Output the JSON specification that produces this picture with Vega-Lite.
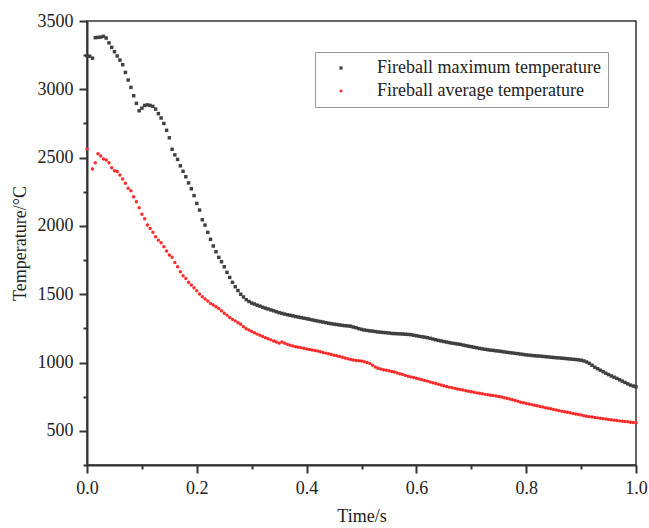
{
"$schema": "https://vega.github.io/schema/vega-lite/v6.json",
"autosize": "none",
"width": 549,
"height": 444,
"padding": {"left": 87, "top": 21, "right": 13, "bottom": 63},
"background": "white",
"data": {"values": [
{"t":0,"a":3245,"b":2563},{"t":0.005,"a":3242,"b":null},{"t":0.01,"a":3228,"b":2416},{"t":0.015,"a":3378,"b":2463},{"t":0.02,"a":3380,"b":2528},{"t":0.025,"a":3382,"b":2512},{"t":0.03,"a":3388,"b":2490},{"t":0.035,"a":3375,"b":2482},{"t":0.04,"a":3340,"b":2463},{"t":0.045,"a":3307,"b":2426},
{"t":0.05,"a":3275,"b":2404},{"t":0.055,"a":3244,"b":2399},{"t":0.06,"a":3214,"b":2372},{"t":0.065,"a":3180,"b":2343},{"t":0.07,"a":3124,"b":2312},{"t":0.075,"a":3068,"b":2275},{"t":0.08,"a":3014,"b":2258},{"t":0.085,"a":2953,"b":2214},{"t":0.09,"a":2897,"b":2177},{"t":0.095,"a":2843,"b":2133},
{"t":0.1,"a":2862,"b":2085},{"t":0.105,"a":2882,"b":2053},{"t":0.11,"a":2886,"b":2006},{"t":0.115,"a":2882,"b":1982},{"t":0.12,"a":2875,"b":1953},{"t":0.125,"a":2855,"b":1921},{"t":0.13,"a":2822,"b":1896},{"t":0.135,"a":2790,"b":1877},{"t":0.14,"a":2750,"b":1847},{"t":0.145,"a":2700,"b":1816},
{"t":0.15,"a":2645,"b":1787},{"t":0.155,"a":2561,"b":1770},{"t":0.16,"a":2520,"b":1733},{"t":0.165,"a":2487,"b":1701},{"t":0.17,"a":2440,"b":1664},{"t":0.175,"a":2400,"b":1635},{"t":0.18,"a":2360,"b":1616},{"t":0.185,"a":2315,"b":1587},{"t":0.19,"a":2272,"b":1567},{"t":0.195,"a":2222,"b":1547},
{"t":0.2,"a":2165,"b":1525},{"t":0.205,"a":2116,"b":1501},{"t":0.21,"a":2045,"b":1481},{"t":0.215,"a":2006,"b":1465},{"t":0.22,"a":1953,"b":1450},{"t":0.225,"a":1902,"b":1433},{"t":0.23,"a":1853,"b":1421},{"t":0.235,"a":1811,"b":1408},{"t":0.24,"a":1770,"b":1396},{"t":0.245,"a":1738,"b":1379},
{"t":0.25,"a":1701,"b":1360},{"t":0.255,"a":1660,"b":1347},{"t":0.26,"a":1623,"b":1330},{"t":0.265,"a":1587,"b":1316},{"t":0.27,"a":1555,"b":1305},{"t":0.275,"a":1527,"b":1292},{"t":0.28,"a":1500,"b":1280},{"t":0.285,"a":1480,"b":1262},{"t":0.29,"a":1460,"b":1248},{"t":0.295,"a":1447,"b":1238},
{"t":0.3,"a":1435,"b":1228},{"t":0.305,"a":1428,"b":1218},{"t":0.31,"a":1420,"b":1208},{"t":0.315,"a":1413,"b":1199},{"t":0.32,"a":1405,"b":1190},{"t":0.325,"a":1398,"b":1182},{"t":0.33,"a":1392,"b":1174},{"t":0.335,"a":1385,"b":1166},{"t":0.34,"a":1379,"b":1158},{"t":0.345,"a":1372,"b":1150},
{"t":0.35,"a":1365,"b":1142},{"t":0.355,"a":1360,"b":1150},{"t":0.36,"a":1355,"b":1142},{"t":0.365,"a":1350,"b":1134},{"t":0.37,"a":1346,"b":1127},{"t":0.375,"a":1342,"b":1121},{"t":0.38,"a":1337,"b":1116},{"t":0.385,"a":1333,"b":1112},{"t":0.39,"a":1329,"b":1108},{"t":0.395,"a":1325,"b":1104},
{"t":0.4,"a":1321,"b":1100},{"t":0.405,"a":1317,"b":1096},{"t":0.41,"a":1312,"b":1092},{"t":0.415,"a":1308,"b":1088},{"t":0.42,"a":1304,"b":1084},{"t":0.425,"a":1300,"b":1079},{"t":0.43,"a":1296,"b":1074},{"t":0.435,"a":1292,"b":1069},{"t":0.44,"a":1288,"b":1064},{"t":0.445,"a":1284,"b":1059},
{"t":0.45,"a":1281,"b":1054},{"t":0.455,"a":1278,"b":1049},{"t":0.46,"a":1275,"b":1044},{"t":0.465,"a":1272,"b":1039},{"t":0.47,"a":1270,"b":1033},{"t":0.475,"a":1268,"b":1028},{"t":0.48,"a":1266,"b":1023},{"t":0.485,"a":1260,"b":1018},{"t":0.49,"a":1255,"b":1015},{"t":0.495,"a":1248,"b":1013},
{"t":0.5,"a":1243,"b":1011},{"t":0.505,"a":1238,"b":1006},{"t":0.51,"a":1235,"b":1000},{"t":0.515,"a":1232,"b":994},{"t":0.52,"a":1230,"b":980},{"t":0.525,"a":1227,"b":968},{"t":0.53,"a":1224,"b":958},{"t":0.535,"a":1222,"b":952},{"t":0.54,"a":1220,"b":948},{"t":0.545,"a":1218,"b":944},
{"t":0.55,"a":1216,"b":940},{"t":0.555,"a":1213,"b":934},{"t":0.56,"a":1212,"b":930},{"t":0.565,"a":1211,"b":924},{"t":0.57,"a":1210,"b":918},{"t":0.575,"a":1209,"b":912},{"t":0.58,"a":1207,"b":906},{"t":0.585,"a":1206,"b":900},{"t":0.59,"a":1204,"b":895},{"t":0.595,"a":1200,"b":890},
{"t":0.6,"a":1196,"b":885},{"t":0.605,"a":1192,"b":880},{"t":0.61,"a":1189,"b":874},{"t":0.615,"a":1186,"b":869},{"t":0.62,"a":1182,"b":864},{"t":0.625,"a":1177,"b":858},{"t":0.63,"a":1172,"b":852},{"t":0.635,"a":1167,"b":847},{"t":0.64,"a":1162,"b":841},{"t":0.645,"a":1158,"b":835},
{"t":0.65,"a":1154,"b":830},{"t":0.655,"a":1150,"b":825},{"t":0.66,"a":1146,"b":820},{"t":0.665,"a":1142,"b":816},{"t":0.67,"a":1139,"b":811},{"t":0.675,"a":1136,"b":807},{"t":0.68,"a":1133,"b":803},{"t":0.685,"a":1128,"b":799},{"t":0.69,"a":1124,"b":794},{"t":0.695,"a":1120,"b":790},
{"t":0.7,"a":1116,"b":786},{"t":0.705,"a":1112,"b":782},{"t":0.71,"a":1108,"b":778},{"t":0.715,"a":1104,"b":775},{"t":0.72,"a":1100,"b":771},{"t":0.725,"a":1097,"b":767},{"t":0.73,"a":1094,"b":764},{"t":0.735,"a":1091,"b":761},{"t":0.74,"a":1089,"b":758},{"t":0.745,"a":1086,"b":755},
{"t":0.75,"a":1084,"b":751},{"t":0.755,"a":1081,"b":747},{"t":0.76,"a":1078,"b":742},{"t":0.765,"a":1075,"b":738},{"t":0.77,"a":1072,"b":733},{"t":0.775,"a":1070,"b":728},{"t":0.78,"a":1067,"b":722},{"t":0.785,"a":1065,"b":716},{"t":0.79,"a":1062,"b":710},{"t":0.795,"a":1059,"b":705},
{"t":0.8,"a":1056,"b":700},{"t":0.805,"a":1054,"b":696},{"t":0.81,"a":1052,"b":692},{"t":0.815,"a":1050,"b":687},{"t":0.82,"a":1048,"b":683},{"t":0.825,"a":1047,"b":678},{"t":0.83,"a":1045,"b":674},{"t":0.835,"a":1043,"b":669},{"t":0.84,"a":1041,"b":665},{"t":0.845,"a":1039,"b":661},
{"t":0.85,"a":1037,"b":656},{"t":0.855,"a":1035,"b":652},{"t":0.86,"a":1034,"b":648},{"t":0.865,"a":1032,"b":644},{"t":0.87,"a":1030,"b":640},{"t":0.875,"a":1028,"b":636},{"t":0.88,"a":1026,"b":632},{"t":0.885,"a":1024,"b":627},{"t":0.89,"a":1022,"b":624},{"t":0.895,"a":1020,"b":620},
{"t":0.9,"a":1017,"b":616},{"t":0.905,"a":1012,"b":611},{"t":0.91,"a":1004,"b":607},{"t":0.915,"a":994,"b":604},{"t":0.92,"a":980,"b":601},{"t":0.925,"a":966,"b":598},{"t":0.93,"a":955,"b":595},{"t":0.935,"a":944,"b":592},{"t":0.94,"a":933,"b":589},{"t":0.945,"a":922,"b":586},
{"t":0.95,"a":912,"b":583},{"t":0.955,"a":902,"b":581},{"t":0.96,"a":893,"b":578},{"t":0.965,"a":884,"b":576},{"t":0.97,"a":874,"b":573},{"t":0.975,"a":864,"b":571},{"t":0.98,"a":854,"b":568},{"t":0.985,"a":844,"b":566},{"t":0.99,"a":835,"b":563},{"t":0.995,"a":828,"b":561},
{"t":1,"a":822,"b":559}
]},
"transform": [{"fold": ["a", "b"], "as": ["series", "value"]}],
"mark": {"type": "point", "filled": true, "size": 12, "opacity": 1},
"encoding": {
  "x": {"field": "t", "type": "quantitative",
    "scale": {"domain": [0, 1], "nice": false, "zero": false},
    "axis": {"title": "Time/s", "values": [0,0.1,0.2,0.3,0.4,0.5,0.6,0.7,0.8,0.9,1.0],
      "labelExpr": "round(datum.value*10) % 2 === 0 ? format(datum.value, '.1f') : ''",
      "tickSize": {"expr": "round(datum.value*10) % 2 === 0 ? 8 : 4"},
      "labelFlush": false, "labelOverlap": false,
      "labelPadding": 6, "titlePadding": 10}},
  "y": {"field": "value", "type": "quantitative",
    "scale": {"domain": [250, 3500], "nice": false, "zero": false},
    "axis": {"title": "Temperature/°C", "values": [250,500,750,1000,1250,1500,1750,2000,2250,2500,2750,3000,3250,3500],
      "format": "d",
      "labelExpr": "datum.value % 500 === 0 ? datum.label : ''",
      "tickSize": {"expr": "datum.value % 500 === 0 ? 8 : 4"},
      "labelFlush": false, "labelOverlap": false,
      "labelPadding": 6, "titlePadding": 8}},
  "color": {"field": "series", "type": "nominal",
    "scale": {"domain": ["a", "b"], "range": ["#404040", "#ff2a2a"]},
    "legend": {"title": null, "orient": "none", "legendX": 228, "legendY": 31,
      "labelExpr": "datum.label === 'a' ? 'Fireball maximum temperature' : 'Fireball average temperature'"}},
  "shape": {"field": "series", "type": "nominal",
    "scale": {"domain": ["a", "b"], "range": ["square", "circle"]},
    "legend": {"title": null, "orient": "none", "legendX": 228, "legendY": 31,
      "labelExpr": "datum.label === 'a' ? 'Fireball maximum temperature' : 'Fireball average temperature'"}}
},
"config": {
  "font": "Liberation Serif",
  "view": {"stroke": "#333333", "strokeWidth": 1.5},
  "axis": {"grid": false, "domainColor": "#333333", "domainWidth": 2, "tickColor": "#333333", "tickWidth": 2,
    "labelFont": "Liberation Serif", "labelFontSize": 18, "labelColor": "#222222",
    "titleFont": "Liberation Serif", "titleFontSize": 18, "titleFontWeight": "normal", "titleColor": "#222222"},
  "legend": {"labelFont": "Liberation Serif", "labelFontSize": 18, "labelColor": "#222222",
    "strokeColor": "#999999", "strokeWidth": 1, "fillColor": "white", "padding": 7,
    "symbolSize": 10, "symbolOffset": 10, "labelOffset": 27, "rowPadding": 5, "labelLimit": 400}
}
}
